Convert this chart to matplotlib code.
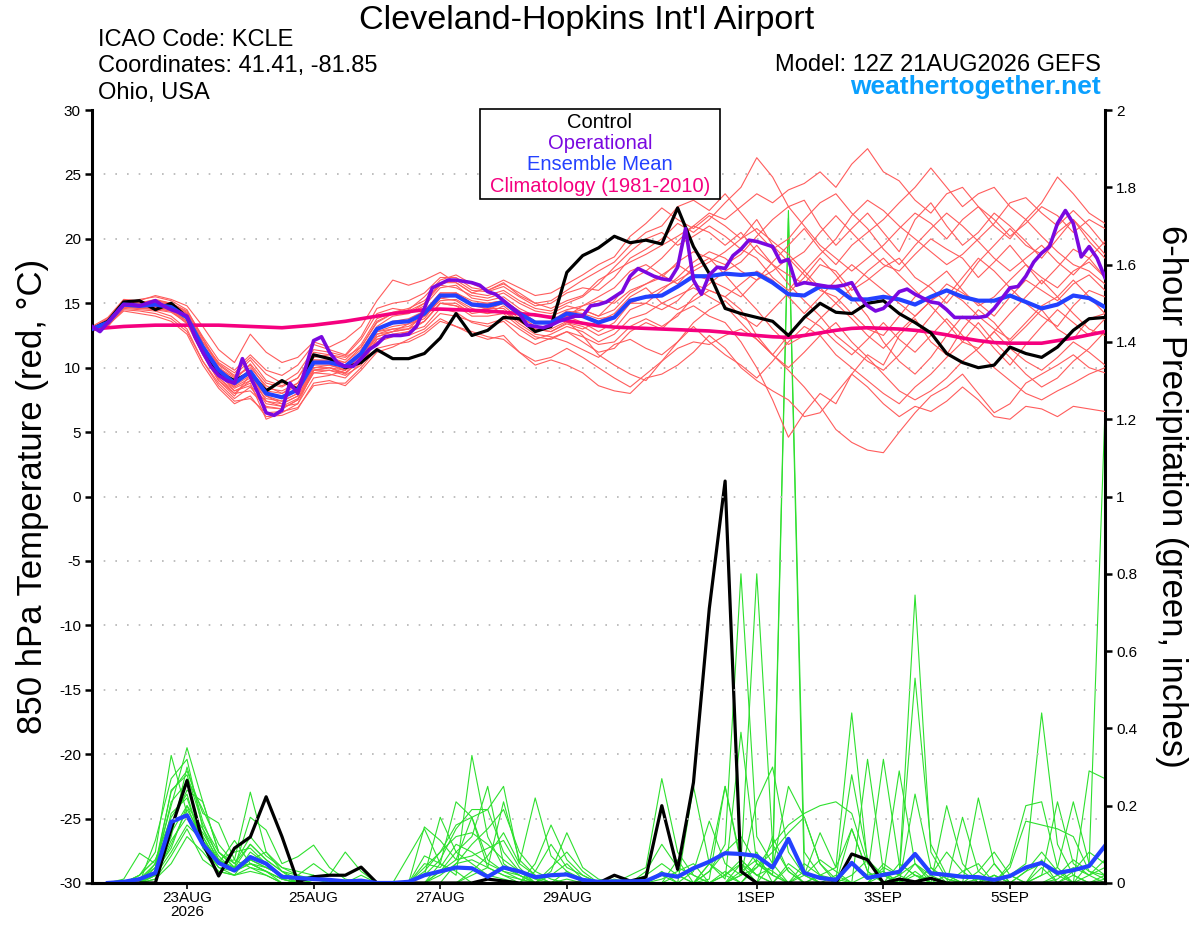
import matplotlib
matplotlib.use("Agg")
import matplotlib.pyplot as plt
import numpy as np
from matplotlib.patches import Rectangle

plt.rcParams["font.family"] = ["Liberation Sans", "DejaVu Sans"]
plt.rcParams["axes.unicode_minus"] = False

# forecast hours after 12Z 21AUG2026
hours = np.arange(0, 385, 6)
op_hours = np.arange(0, 385, 3)
precip_hours = hours[1:]

date_ticks = [36, 84, 132, 180, 252, 300, 348]
date_labels = ["23AUG\n2026", "25AUG", "27AUG", "29AUG", "1SEP", "3SEP", "5SEP"]
temp_ticks = list(range(-30, 31, 5))
precip_ticks = [0, 0.2, 0.4, 0.6, 0.8, 1.0, 1.2, 1.4, 1.6, 1.8, 2.0]

# 850 hPa temperature, deg C
control_t = [
    13.0, 13.6, 15.1, 15.2, 14.5, 15.0, 13.9, 11.4, 9.6, 9.0,
    9.6, 8.2, 9.0, 8.3, 11.0, 10.7, 10.0, 10.4, 11.4, 10.7,
    10.7, 11.1, 12.3, 14.2, 12.5, 12.9, 13.9, 13.8, 12.8, 13.2,
    17.4, 18.7, 19.3, 20.2, 19.7, 19.9, 19.6, 22.4, 19.4, 17.3,
    14.6, 14.2, 13.9, 13.6, 12.5, 13.9, 15.0, 14.3, 14.2, 15.0,
    15.2, 14.2, 13.5, 12.7, 11.1, 10.4, 10.0, 10.2, 11.6, 11.1,
    10.8, 11.6, 12.9, 13.8, 13.9,
]

operational_t = [
    13.2, 12.8, 13.5, 14.2, 14.9, 14.9, 14.8, 15.0, 15.2, 14.8,
    14.5, 14.3, 14.0, 12.4, 11.2, 10.1, 9.4, 9.0, 8.8, 10.7,
    9.3, 8.0, 6.5, 6.3, 6.7, 8.8, 8.0, 10.0, 12.1, 12.4,
    11.2, 10.4, 10.1, 10.1, 10.7, 11.4, 11.8, 12.4, 12.5, 12.5,
    12.6, 13.2, 14.6, 16.2, 16.5, 16.8, 16.8, 16.7, 16.6, 16.4,
    15.9, 15.7, 15.2, 14.7, 14.2, 13.3, 13.2, 13.1, 13.3, 13.6,
    13.8, 14.0, 14.0, 14.8, 14.9, 15.1, 15.5, 15.9, 17.1, 17.7,
    17.4, 17.1, 16.9, 16.8, 17.8, 20.8, 16.8, 15.7, 17.2, 17.8,
    17.7, 18.7, 19.2, 19.9, 19.8, 19.6, 19.4, 18.2, 18.4, 16.4,
    16.6, 16.5, 16.4, 16.3, 16.3, 16.4, 16.6, 15.5, 14.8, 14.4,
    14.6, 15.2, 15.9, 16.1, 15.7, 15.4, 15.1, 15.0, 14.5, 13.9,
    13.9, 13.9, 13.9, 14.0, 14.6, 15.4, 16.2, 16.3, 17.1, 18.2,
    18.9, 19.4, 21.2, 22.2, 21.2, 18.6, 19.4, 18.5, 17.0,
]

mean_t = [
    13.0, 13.5, 14.9, 14.8, 14.9, 14.7, 13.9, 11.6, 9.8, 8.8,
    9.7, 8.0, 7.7, 8.3, 10.4, 10.4, 10.1, 11.1, 13.0, 13.5,
    13.6, 14.2, 15.6, 15.6, 14.9, 14.8, 15.1, 14.2, 13.5, 13.5,
    14.2, 14.0, 13.5, 13.9, 15.2, 15.5, 15.6, 16.3, 17.1, 17.1,
    17.3, 17.2, 17.3, 16.6, 15.7, 15.6, 16.3, 16.2, 15.3, 15.3,
    15.5, 15.3, 14.9, 15.5, 16.0, 15.5, 15.2, 15.2, 15.6, 15.1,
    14.6, 14.9, 15.6, 15.4, 14.7,
]

climo_t = [
    13.0, 13.1, 13.2, 13.25, 13.3, 13.3, 13.3, 13.3, 13.3, 13.25,
    13.2, 13.15, 13.1, 13.2, 13.3, 13.45, 13.6, 13.8, 14.0, 14.2,
    14.35, 14.5, 14.55, 14.5, 14.45, 14.4, 14.3, 14.2, 14.1, 13.9,
    13.65, 13.45, 13.25, 13.15, 13.1, 13.05, 13.0, 12.95, 12.9, 12.85,
    12.75, 12.6, 12.5, 12.4, 12.35, 12.5, 12.7, 12.9, 13.05, 13.1,
    13.05, 13.0, 12.9, 12.75, 12.55, 12.3, 12.1, 11.95, 11.9, 11.9,
    11.9, 12.1, 12.3, 12.55, 12.8,
]

member_t = [
    [13.1, 13.8, 15.2, 15.0, 15.3, 15.0, 14.2, 12.0, 10.2, 9.3,
     10.0, 8.6, 8.0, 8.8, 10.8, 11.0, 10.6, 11.8, 13.8, 14.3,
     14.6, 15.2, 16.5, 16.8, 16.0, 15.9, 16.3, 15.5, 14.8, 15.0,
     15.8, 16.2, 16.0, 17.0, 18.5, 19.2, 20.0, 21.2, 20.5, 21.5,
     22.8, 24.0, 26.3, 24.8, 22.5, 23.0, 21.0, 19.5, 20.8, 22.0,
     20.5, 19.0, 21.5, 22.8, 21.0, 19.5, 20.5, 22.0, 21.0, 19.8,
     18.5, 20.0, 21.5, 20.2, 18.8],
    [12.9, 13.2, 14.6, 14.5, 14.4, 14.0, 13.0, 10.5, 8.8, 7.6,
     8.5, 6.9, 6.8, 7.5, 9.6, 9.5, 9.2, 10.4, 12.0, 12.4,
     12.8, 13.2, 14.6, 14.3, 13.5, 13.2, 13.6, 12.5, 11.8, 12.3,
     12.8, 12.0, 11.2, 11.5, 12.8, 13.5, 13.0, 14.2, 14.8, 14.0,
     13.5, 12.0, 10.0, 7.5, 4.6, 6.5, 8.0, 7.2, 9.5, 11.0,
     10.2, 12.5, 13.8, 12.0, 11.0, 13.0, 14.5, 13.5, 12.0, 13.2,
     14.5, 13.0, 12.2, 13.8, 14.2],
    [13.0, 13.6, 15.0, 15.3, 15.5, 15.2, 14.5, 12.3, 10.0, 9.0,
     10.3, 8.8, 8.5, 9.2, 11.2, 11.0, 10.8, 11.6, 13.5, 14.2,
     14.5, 15.5, 16.8, 17.2, 16.5, 16.0, 16.5, 15.8, 15.0, 14.6,
     15.2, 15.6, 16.8, 17.5, 18.2, 18.8, 19.5, 20.2, 21.0, 22.0,
     21.5, 22.5, 23.5, 22.8, 23.8, 24.3, 25.2, 24.0, 25.8, 27.0,
     25.2, 24.5, 23.0, 22.0, 23.5, 24.0, 22.5, 21.0, 20.0, 21.5,
     22.8, 24.8, 23.5, 22.0, 21.2],
    [12.8, 13.3, 14.4, 14.2, 14.0, 13.6, 12.6, 10.2, 8.4, 7.2,
     7.8, 6.2, 6.3, 6.8, 8.8, 9.0, 8.6, 9.8, 11.2, 11.6,
     12.2, 12.8, 13.8, 13.2, 12.6, 12.2, 12.5, 11.2, 10.5, 10.8,
     11.5, 10.8, 10.0, 9.2, 8.5, 9.5, 10.5, 11.5, 12.0, 11.8,
     12.5, 13.0, 12.2, 11.0, 9.8, 8.5, 7.0, 5.2, 4.2, 3.6,
     3.4, 5.0, 6.5, 7.8, 8.5, 9.5, 8.0, 6.5, 7.2, 8.8,
     9.5, 10.2, 11.0, 10.0, 9.6],
    [13.0, 13.4, 14.8, 14.6, 14.7, 14.5, 13.8, 11.5, 9.5, 8.5,
     9.2, 7.8, 7.2, 7.8, 10.0, 10.2, 9.8, 11.0, 12.8, 13.0,
     13.2, 14.0, 15.2, 15.3, 14.6, 14.2, 14.8, 13.8, 13.0, 12.8,
     13.5, 13.2, 12.5, 13.0, 14.5, 15.0, 16.0, 17.0, 18.2, 19.0,
     18.5, 17.5, 16.8, 17.5, 18.5, 17.2, 16.0, 15.5, 14.2, 13.0,
     12.5, 14.0, 15.5, 16.5, 17.5, 16.0, 14.8, 15.5, 16.8, 18.0,
     17.0, 16.2, 17.5, 18.2, 17.0],
    [13.2, 13.9, 15.3, 15.2, 15.6, 15.3, 14.8, 13.2, 11.4, 10.4,
     12.6, 11.2, 10.4, 10.8, 12.0, 11.6, 12.2, 13.2, 15.2, 16.8,
     16.4, 16.8, 17.4, 16.6, 15.8, 16.2, 16.8, 16.2, 15.6, 15.8,
     16.5, 17.2, 18.0, 18.6, 20.2, 21.2, 22.4, 21.5, 20.8, 21.8,
     21.0, 20.0, 21.5, 19.5, 18.2, 19.0, 20.5, 21.8, 20.5, 19.2,
     18.0, 17.5, 18.8, 20.0, 19.2, 18.5, 17.0, 18.2, 19.5, 18.0,
     16.5, 17.8, 19.2, 18.5, 17.0],
    [12.9, 13.5, 15.1, 14.9, 15.0, 14.8, 14.0, 11.8, 9.6, 8.2,
     8.8, 6.0, 6.5, 7.2, 9.8, 10.0, 9.5, 10.8, 12.6, 12.8,
     13.0, 14.2, 15.5, 15.8, 15.0, 14.5, 15.0, 14.0, 13.2, 13.0,
     13.6, 12.5, 11.0, 10.2, 9.5, 9.0, 10.5, 12.0, 13.5, 14.5,
     15.2, 14.0, 13.2, 14.5, 15.8, 17.0, 18.5, 17.2, 15.5, 14.0,
     12.0, 10.5, 9.5, 10.8, 12.5, 14.0, 13.0, 11.5, 10.2, 11.8,
     13.2, 14.5, 13.5, 12.5, 13.8],
    [13.1, 13.7, 14.9, 14.9, 15.1, 14.9, 14.2, 12.0, 10.4, 9.6,
     10.8, 9.5, 8.8, 9.6, 11.4, 11.2, 10.9, 12.2, 14.2, 14.6,
     14.4, 15.0, 16.4, 16.2, 15.6, 15.4, 15.8, 15.0, 14.4, 14.2,
     14.8, 14.5, 14.0, 15.2, 16.8, 17.5, 18.5, 19.8, 21.0, 20.5,
     19.5, 20.5, 19.0, 18.0, 17.2, 16.5, 18.0, 17.5, 16.0, 16.8,
     17.8, 18.5, 17.0, 16.2, 15.0, 16.5, 18.2, 19.5, 20.8, 19.5,
     18.8, 20.5, 21.5, 19.8, 18.5],
    [13.0, 13.6, 15.0, 14.7, 14.8, 14.6, 13.6, 11.2, 9.2, 8.0,
     9.0, 7.2, 7.0, 7.6, 9.8, 9.8, 9.4, 10.2, 12.2, 12.6,
     12.8, 13.6, 15.0, 14.8, 14.0, 14.0, 14.2, 13.2, 12.4, 12.2,
     12.8, 12.4, 11.8, 12.0, 13.2, 13.8, 13.2, 14.0, 15.5, 16.5,
     17.5, 18.2, 19.5, 18.0, 16.5, 15.2, 14.0, 12.5, 11.5, 10.5,
     9.8, 11.0, 12.5, 14.0, 15.5, 17.0, 18.5, 17.5, 16.2, 15.0,
     14.0, 13.2, 14.8, 16.0, 15.5],
    [13.0, 13.3, 14.6, 14.9, 14.6, 14.4, 13.4, 11.0, 9.0, 7.8,
     9.5, 7.4, 7.0, 7.2, 9.2, 9.4, 9.8, 10.8, 12.4, 12.8,
     13.4, 13.8, 15.4, 15.2, 14.4, 14.6, 14.6, 13.6, 12.8, 13.2,
     14.0, 14.8, 15.5, 16.2, 17.5, 18.0, 17.2, 16.5, 17.8, 18.5,
     17.2, 15.8, 14.5, 13.0, 11.8, 12.5, 13.8, 15.0, 16.2, 17.5,
     18.5, 17.2, 16.0, 14.8, 13.5, 12.0, 11.5, 12.8, 14.2, 15.5,
     16.8, 15.5, 14.2, 13.0, 12.5],
    [12.9, 13.4, 14.7, 14.6, 14.5, 14.3, 13.5, 11.0, 9.0, 8.0,
     8.2, 7.0, 6.8, 7.5, 9.6, 9.8, 9.6, 10.5, 12.2, 12.5,
     12.5, 13.0, 14.2, 14.0, 13.6, 13.4, 13.8, 13.0, 12.2, 12.6,
     13.2, 12.8, 12.0, 12.6, 13.8, 14.2, 15.0, 15.6, 16.2, 15.5,
     14.8, 13.5, 12.2, 11.0, 10.0, 11.2, 12.5, 13.5, 12.0, 10.8,
     9.5, 8.2, 7.5, 8.2, 9.2, 10.5, 11.5, 12.8, 11.5, 10.5,
     9.8, 10.8, 12.0, 11.2, 10.2],
    [13.0, 13.7, 15.1, 14.8, 14.9, 14.8, 14.0, 11.8, 10.0, 9.2,
     10.2, 8.4, 8.2, 8.8, 10.6, 10.6, 10.4, 11.4, 13.2, 14.0,
     14.2, 14.8, 16.2, 16.4, 15.4, 15.2, 15.5, 14.6, 14.0, 14.0,
     14.5, 14.8, 15.2, 15.0, 16.0, 16.5, 17.0, 18.2, 19.0, 18.5,
     18.0, 18.8, 20.2, 21.5, 22.5, 21.0, 19.5, 18.5, 17.5, 18.5,
     19.5, 20.8, 22.0, 21.2, 20.0, 21.5, 22.5, 21.5, 20.2, 21.2,
     22.5, 21.8, 20.5, 21.5, 20.8],
    [13.0, 13.5, 14.8, 14.8, 14.8, 14.6, 13.8, 11.4, 9.6, 8.6,
     9.4, 7.8, 7.4, 8.0, 10.2, 10.2, 9.9, 10.9, 12.8, 13.2,
     13.4, 14.0, 15.4, 15.6, 14.8, 14.6, 15.0, 14.0, 13.2, 13.2,
     14.0, 13.5, 12.8, 13.5, 15.0, 15.0, 14.5, 15.2, 16.5, 16.0,
     15.5, 16.5, 17.5, 16.8, 15.5, 14.2, 15.5, 16.8, 18.0, 17.0,
     16.0, 15.0, 14.0, 15.2, 16.5, 15.8, 15.0, 14.0, 15.5, 16.8,
     16.0, 15.2, 16.5, 17.2, 16.0],
    [13.1, 13.6, 15.0, 15.1, 15.2, 15.0, 14.4, 12.4, 10.6, 9.8,
     11.0, 9.8, 9.4, 10.2, 11.8, 11.4, 11.0, 12.4, 14.6, 15.0,
     15.2, 15.8, 17.0, 17.0, 16.2, 16.0, 16.6, 15.6, 15.0, 15.2,
     16.0, 16.8, 17.5, 18.2, 19.5, 20.5, 21.0, 22.5, 23.0, 22.2,
     23.5, 22.0, 20.5, 19.2, 20.0, 21.5, 22.8, 23.5, 22.0, 20.8,
     19.2, 18.0, 19.5, 20.8, 22.0, 21.0, 19.8, 18.5, 17.5, 18.5,
     19.5, 18.2, 17.2, 18.5, 19.8],
    [12.9, 13.3, 14.5, 14.4, 14.2, 13.8, 12.8, 10.5, 8.6, 7.4,
     7.6, 6.5, 6.6, 6.9, 8.6, 8.8, 8.8, 10.0, 11.5, 11.8,
     12.0, 12.6, 13.6, 13.2, 12.8, 12.4, 12.2, 11.2, 10.2, 10.6,
     10.2, 9.6, 8.6, 8.2, 8.0, 9.2, 9.5, 10.2, 11.2, 12.5,
     11.5, 10.0, 9.0, 8.2, 7.5, 6.2, 6.5, 8.0, 9.5, 8.5,
     7.2, 6.2, 7.0, 6.6, 7.4, 8.5, 7.5, 6.2, 6.0, 7.0,
     6.8, 6.2, 7.0, 6.8, 6.6],
    [13.0, 13.5, 14.9, 14.7, 14.9, 14.7, 13.9, 11.7, 9.9, 8.9,
     9.6, 8.2, 8.0, 8.6, 10.4, 10.5, 10.2, 11.2, 13.0, 13.6,
     13.8, 14.4, 15.8, 15.8, 15.2, 15.0, 15.2, 14.4, 13.6, 13.4,
     14.2, 14.5, 14.0, 14.5, 15.8, 16.5, 17.2, 18.0, 17.2, 16.8,
     16.2, 15.5, 16.8, 18.2, 19.5, 20.8, 19.2, 18.0, 19.5, 20.5,
     21.5, 22.8, 24.0, 25.5, 24.0, 22.5, 23.5, 24.0, 22.5, 21.5,
     20.2, 19.0, 18.0, 17.5, 16.5],
    [13.0, 13.4, 14.8, 14.7, 14.7, 14.5, 13.6, 11.3, 9.4, 8.4,
     9.0, 7.6, 7.4, 8.0, 10.0, 10.0, 9.8, 10.6, 12.6, 13.0,
     13.0, 13.6, 15.0, 15.0, 14.2, 14.4, 14.4, 13.4, 12.6, 12.4,
     12.0, 11.4, 10.8, 11.8, 12.2, 11.5, 11.0, 12.0, 13.2, 12.0,
     11.0, 10.2, 9.2, 10.5, 12.0, 13.2, 12.5, 11.0, 10.0, 9.0,
     8.0, 7.2, 8.5, 9.5, 10.8, 12.0, 13.5, 12.0, 10.8, 9.5,
     8.5, 9.2, 10.5, 11.5, 12.8],
    [13.1, 13.8, 15.2, 15.0, 15.2, 15.0, 14.3, 12.2, 10.3, 9.4,
     10.6, 9.0, 8.6, 9.2, 11.0, 10.8, 10.4, 11.6, 13.6, 14.2,
     14.2, 15.0, 16.6, 16.6, 15.8, 15.6, 16.0, 15.2, 14.6, 14.4,
     15.0, 15.5, 16.5, 17.8, 19.0, 20.0, 20.5, 19.5, 20.2, 21.0,
     20.2, 19.2, 18.5, 17.0, 16.0, 17.5, 18.8, 20.0, 21.8, 23.0,
     22.2, 21.0, 20.0, 19.0, 18.0, 18.8, 20.0, 21.2, 22.8, 23.2,
     22.0, 21.0, 22.2, 21.0, 19.5],
    [13.0, 13.5, 14.8, 14.8, 15.0, 14.8, 14.0, 11.8, 10.0, 9.0,
     9.8, 8.0, 7.6, 8.4, 10.6, 10.5, 10.0, 11.2, 13.0, 13.4,
     13.6, 14.4, 15.8, 15.8, 15.0, 15.0, 15.2, 14.4, 13.6, 13.6,
     14.4, 14.2, 13.8, 14.0, 15.0, 15.5, 16.2, 16.8, 17.5, 18.2,
     19.0, 20.0, 20.8, 19.8, 18.8, 17.5, 16.2, 15.0, 13.8, 12.5,
     11.5, 12.8, 14.0, 15.2, 16.0, 15.2, 14.0, 13.0, 12.2, 13.5,
     14.8, 15.5, 16.8, 15.5, 14.2],
    [12.9, 13.2, 14.7, 14.6, 14.6, 14.4, 13.6, 11.2, 9.2, 8.2,
     8.6, 7.4, 7.2, 7.8, 9.8, 10.0, 9.6, 10.6, 12.4, 12.8,
     13.0, 13.6, 15.0, 14.8, 14.4, 14.2, 14.4, 13.6, 13.0, 12.8,
     13.4, 13.0, 13.6, 14.2, 15.5, 16.2, 15.0, 14.5, 15.2, 16.0,
     15.5, 14.5, 12.5, 11.0, 12.5, 14.0, 13.2, 12.0, 11.0, 12.2,
     13.5, 12.2, 11.2, 12.5, 13.8, 12.5, 11.2, 10.0, 9.0, 8.0,
     7.5, 8.2, 8.8, 9.5, 10.0],
]

# 6-hour precipitation, inches (periods ending 18Z 21AUG .. 12Z 6SEP)
control_p = [
    0, 0, 0, 0, 0.14, 0.265, 0.103, 0.018, 0.09,
    0.119, 0.223, 0.12, 0.003, 0.016, 0.02, 0.02, 0.041, 0, 0,
    0, 0, 0, 0, 0, 0.01, 0.005, 0, 0, 0,
    0, 0, 0, 0.02, 0.005, 0.015, 0.20, 0.035, 0.26, 0.71,
    1.04, 0.03, 0, 0, 0, 0, 0, 0, 0.075, 0.06,
    0, 0.01, 0.003, 0.012, 0, 0, 0, 0, 0, 0,
    0, 0, 0, 0, 0,
]

mean_p = [
    0.0, 0.003, 0.01, 0.026, 0.158, 0.175, 0.10, 0.052, 0.032,
    0.067, 0.05, 0.016, 0.013, 0.01, 0.008, 0.004, 0.006, 0.0, 0.0,
    0.003, 0.02, 0.03, 0.04, 0.038, 0.016, 0.04, 0.03, 0.015, 0.02,
    0.022, 0.008, 0.003, 0.004, 0.004, 0.005, 0.023, 0.016, 0.038, 0.055,
    0.077, 0.075, 0.07, 0.04, 0.114, 0.026, 0.013, 0.008, 0.052, 0.013,
    0.021, 0.029, 0.075, 0.025, 0.021, 0.016, 0.015, 0.008, 0.018, 0.04,
    0.052, 0.026, 0.033, 0.044, 0.096,
]

member_p = [
    [0, 0, 0.02, 0.08, 0.33, 0.18, 0.10, 0.05, 0.03,
     0.06, 0.04, 0.02, 0.01, 0.0, 0.0, 0.0, 0.0, 0.0, 0.0,
     0.0, 0.02, 0.17, 0.08, 0.05, 0.02, 0.01, 0.0, 0.0, 0.02,
     0.05, 0.01, 0.0, 0.0, 0.0, 0.02, 0.05, 0.02, 0.0, 0.03,
     0.10, 0.80, 0.12, 0.05, 1.74, 0.08, 0.02, 0.04, 0.14, 0.03,
     0.0, 0.02, 0.05, 0.01, 0.0, 0.0, 0.03, 0.08, 0.02, 0.0,
     0.0, 0.02, 0.06, 0.03, 0.01],
    [0, 0, 0.01, 0.05, 0.20, 0.35, 0.21, 0.08, 0.04,
     0.10, 0.06, 0.03, 0.01, 0.02, 0.0, 0.0, 0.0, 0.0, 0.0,
     0.0, 0.0, 0.05, 0.21, 0.17, 0.06, 0.03, 0.01, 0.0, 0.0,
     0.01, 0.0, 0.0, 0.0, 0.02, 0.04, 0.27, 0.08, 0.02, 0.0,
     0.02, 0.05, 0.80, 0.10, 0.03, 0.0, 0.02, 0.01, 0.0, 0.0,
     0.05, 0.02, 0.745, 0.08, 0.01, 0.0, 0.0, 0.02, 0.0, 0.03,
     0.08, 0.03, 0.0, 0.05, 1.22],
    [0, 0, 0.0, 0.11, 0.27, 0.32, 0.14, 0.05, 0.11,
     0.05, 0.03, 0.01, 0.0, 0.0, 0.0, 0.0, 0.0, 0.0, 0.0,
     0.07, 0.14, 0.05, 0.02, 0.33, 0.12, 0.04, 0.02, 0.0, 0.0,
     0.0, 0.0, 0.0, 0.01, 0.0, 0.0, 0.02, 0.0, 0.25, 0.05,
     0.01, 0.39, 0.05, 0.02, 1.72, 0.02, 0.0, 0.0, 0.05, 0.02,
     0.32, 0.05, 0.02, 0.01, 0.0, 0.17, 0.03, 0.0, 0.0, 0.0,
     0.0, 0.01, 0.04, 0.02, 0.0],
    [0, 0.01, 0.077, 0.05, 0.236, 0.29, 0.18, 0.155, 0.06,
     0.235, 0.08, 0.04, 0.02, 0.01, 0.0, 0.0, 0.0, 0.0, 0.0,
     0.0, 0.145, 0.11, 0.06, 0.17, 0.04, 0.02, 0.01, 0.0, 0.03,
     0.13, 0.04, 0.01, 0.0, 0.0, 0.0, 0.0, 0.0, 0.03, 0.16,
     0.05, 0.02, 0.21, 0.30, 0.08, 0.02, 0.13, 0.04, 0.44, 0.05,
     0.02, 0.0, 0.03, 0.0, 0.2, 0.05, 0.0, 0.0, 0.02, 0.05,
     0.44, 0.1, 0.02, 0.0, 0.0],
    [0, 0.0, 0.02, 0.06, 0.15, 0.24, 0.21, 0.08, 0.04,
     0.17, 0.137, 0.05, 0.068, 0.098, 0.04, 0.01, 0.0, 0.0, 0.0,
     0.0, 0.0, 0.03, 0.08, 0.12, 0.25, 0.05, 0.02, 0.0, 0.0,
     0.0, 0.0, 0.0, 0.0, 0.0, 0.0, 0.0, 0.02, 0.0, 0.01,
     0.25, 0.05, 0.02, 0.04, 0.25, 0.17, 0.05, 0.01, 0.28, 0.06,
     0.02, 0.29, 0.05, 0.02, 0.0, 0.0, 0.22, 0.05, 0.0, 0.0,
     0.02, 0.04, 0.21, 0.05, 0.02],
    [0, 0, 0.0, 0.03, 0.12, 0.30, 0.16, 0.06, 0.08,
     0.09, 0.05, 0.02, 0.01, 0.0, 0.0, 0.0, 0.0, 0.0, 0.0,
     0.0, 0.02, 0.06, 0.14, 0.19, 0.19, 0.08, 0.03, 0.01, 0.0,
     0.0, 0.0, 0.0, 0.0, 0.0, 0.0, 0.0, 0.0, 0.0, 0.0,
     0.02, 0.06, 0.02, 0.0, 0.05, 0.02, 0.0, 0.0, 0.02, 0.06,
     0.0, 0.02, 0.53, 0.1, 0.02, 0.0, 0.01, 0.0, 0.05, 0.2,
     0.21, 0.04, 0.0, 0.02, 0.06],
    [0, 0, 0.01, 0.04, 0.21, 0.26, 0.12, 0.05, 0.03,
     0.05, 0.04, 0.02, 0.0, 0.0, 0.0, 0.0, 0.0, 0.0, 0.0,
     0.0, 0.0, 0.02, 0.05, 0.06, 0.04, 0.21, 0.06, 0.02, 0.0,
     0.0, 0.0, 0.0, 0.0, 0.0, 0.0, 0.03, 0.0, 0.0, 0.0,
     0.0, 0.05, 0.0, 0.12, 0.03, 0.0, 0.02, 0.0, 0.0, 0.02,
     0.03, 0.0, 0.23, 0.04, 0.01, 0.0, 0.0, 0.02, 0.0, 0.03,
     0.05, 0.02, 0.0, 0.29, 0.27],
    [0, 0, 0.0, 0.02, 0.18, 0.22, 0.10, 0.05, 0.06,
     0.04, 0.03, 0.01, 0.0, 0.0, 0.0, 0.0, 0.0, 0.0, 0.0,
     0.0, 0.0, 0.0, 0.0, 0.03, 0.07, 0.13, 0.05, 0.22, 0.07,
     0.03, 0.01, 0.0, 0.0, 0.0, 0.0, 0.01, 0.03, 0.05, 0.0,
     0.0, 0.03, 0.06, 0.02, 0.0, 0.05, 0.02, 0.0, 0.14, 0.03,
     0.0, 0.0, 0.0, 0.02, 0.08, 0.03, 0.0, 0.02, 0.0, 0.0,
     0.0, 0.0, 0.02, 0.0, 0.01],
    [0, 0, 0.0, 0.03, 0.09, 0.20, 0.14, 0.07, 0.03,
     0.06, 0.08, 0.03, 0.02, 0.05, 0.02, 0.08, 0.03, 0.0, 0.0,
     0.0, 0.05, 0.04, 0.1, 0.08, 0.05, 0.03, 0.02, 0.0, 0.04,
     0.08, 0.03, 0.0, 0.0, 0.0, 0.03, 0.1, 0.04, 0.02, 0.0,
     0.03, 0.0, 0.04, 0.1, 0.15, 0.18, 0.20, 0.21, 0.18, 0.05,
     0.02, 0.0, 0.02, 0.0, 0.0, 0.03, 0.05, 0.0, 0.04, 0.16,
     0.15, 0.14, 0.12, 0.03, 0.02],
    [0, 0, 0.0, 0.05, 0.14, 0.27, 0.19, 0.10, 0.05,
     0.12, 0.07, 0.04, 0.03, 0.02, 0.0, 0.0, 0.0, 0.0, 0.0,
     0.0, 0.0, 0.0, 0.05, 0.1, 0.14, 0.19, 0.08, 0.03, 0.01,
     0.0, 0.0, 0.0, 0.0, 0.0, 0.0, 0.0, 0.0, 0.0, 0.05,
     0.02, 0.0, 0.05, 0.03, 0.0, 0.02, 0.06, 0.03, 0.0, 0.0,
     0.04, 0.02, 0.0, 0.0, 0.02, 0.0, 0.0, 0.0, 0.02, 0.0,
     0.02, 0.21, 0.05, 0.02, 0.04],
    [0, 0, 0.0, 0.02, 0.10, 0.19, 0.12, 0.05, 0.04,
     0.07, 0.05, 0.02, 0.0, 0.0, 0.0, 0.0, 0.0, 0.0, 0.0,
     0.0, 0.0, 0.0, 0.0, 0.0, 0.0, 0.0, 0.0, 0.05, 0.15,
     0.06, 0.02, 0.0, 0.0, 0.0, 0.0, 0.0, 0.0, 0.0, 0.03,
     0.08, 0.12, 0.05, 0.02, 0.0, 0.03, 0.0, 0.02, 0.0, 0.0,
     0.0, 0.05, 0.02, 0.0, 0.0, 0.0, 0.0, 0.05, 0.0, 0.0,
     0.06, 0.0, 0.03, 0.08, 0.05],
    [0, 0, 0.0, 0.04, 0.24, 0.28, 0.15, 0.08, 0.05,
     0.10, 0.06, 0.03, 0.0, 0.0, 0.0, 0.0, 0.02, 0.0, 0.0,
     0.0, 0.03, 0.08, 0.15, 0.17, 0.19, 0.25, 0.05, 0.02, 0.0,
     0.0, 0.0, 0.0, 0.0, 0.0, 0.0, 0.0, 0.0, 0.0, 0.0,
     0.0, 0.0, 0.0, 0.05, 0.0, 0.0, 0.0, 0.0, 0.0, 0.0,
     0.0, 0.0, 0.05, 0.0, 0.0, 0.0, 0.0, 0.0, 0.0, 0.0,
     0.0, 0.0, 0.0, 0.0, 0.0],
    [0, 0, 0.02, 0.06, 0.17, 0.23, 0.09, 0.04, 0.02,
     0.08, 0.05, 0.02, 0.0, 0.0, 0.0, 0.0, 0.0, 0.0, 0.0,
     0.0, 0.04, 0.08, 0.12, 0.13, 0.10, 0.06, 0.03, 0.0, 0.0,
     0.03, 0.0, 0.0, 0.0, 0.0, 0.0, 0.0, 0.06, 0.0, 0.0,
     0.0, 0.02, 0.08, 0.0, 0.04, 0.0, 0.0, 0.0, 0.0, 0.32,
     0.03, 0.0, 0.0, 0.0, 0.0, 0.0, 0.0, 0.0, 0.0, 0.0,
     0.04, 0.0, 0.0, 0.0, 0.02],
    [0, 0, 0.0, 0.02, 0.08, 0.15, 0.11, 0.06, 0.04,
     0.05, 0.03, 0.0, 0.0, 0.0, 0.0, 0.0, 0.0, 0.0, 0.0,
     0.0, 0.0, 0.03, 0.06, 0.07, 0.09, 0.11, 0.04, 0.0, 0.0,
     0.0, 0.0, 0.0, 0.0, 0.0, 0.0, 0.0, 0.0, 0.0, 0.0,
     0.0, 0.0, 0.0, 0.0, 0.0, 0.0, 0.0, 0.0, 0.0, 0.0,
     0.0, 0.0, 0.0, 0.0, 0.0, 0.0, 0.0, 0.0, 0.0, 0.0,
     0.0, 0.0, 0.0, 0.0, 0.0],
    [0, 0, 0.0, 0.01, 0.05, 0.12, 0.08, 0.03, 0.02,
     0.04, 0.02, 0.0, 0.0, 0.0, 0.0, 0.0, 0.0, 0.0, 0.0,
     0.0, 0.0, 0.0, 0.0, 0.02, 0.04, 0.02, 0.0, 0.0, 0.0,
     0.0, 0.0, 0.0, 0.0, 0.0, 0.0, 0.0, 0.0, 0.0, 0.0,
     0.0, 0.02, 0.04, 0.08, 0.13, 0.17, 0.05, 0.0, 0.0, 0.0,
     0.02, 0.0, 0.0, 0.04, 0.0, 0.0, 0.0, 0.0, 0.0, 0.0,
     0.0, 0.0, 0.0, 0.0, 0.0],
    [0, 0, 0.0, 0.03, 0.13, 0.20, 0.10, 0.04, 0.03,
     0.06, 0.04, 0.02, 0.0, 0.0, 0.0, 0.0, 0.0, 0.0, 0.0,
     0.0, 0.0, 0.0, 0.0, 0.0, 0.0, 0.0, 0.0, 0.03, 0.10,
     0.04, 0.02, 0.0, 0.0, 0.0, 0.0, 0.0, 0.0, 0.0, 0.05,
     0.25, 0.06, 0.02, 0.0, 0.0, 0.0, 0.0, 0.0, 0.0, 0.0,
     0.0, 0.0, 0.0, 0.0, 0.0, 0.0, 0.0, 0.0, 0.0, 0.0,
     0.0, 0.0, 0.0, 0.0, 0.0],
    [0, 0, 0.0, 0.02, 0.11, 0.17, 0.13, 0.06, 0.03,
     0.05, 0.03, 0.01, 0.0, 0.0, 0.0, 0.0, 0.0, 0.0, 0.0,
     0.0, 0.07, 0.05, 0.03, 0.0, 0.0, 0.0, 0.0, 0.0, 0.0,
     0.0, 0.0, 0.0, 0.0, 0.0, 0.0, 0.0, 0.0, 0.0, 0.0,
     0.0, 0.0, 0.0, 0.0, 0.0, 0.0, 0.0, 0.0, 0.0, 0.0,
     0.0, 0.0, 0.0, 0.0, 0.0, 0.0, 0.0, 0.0, 0.0, 0.0,
     0.0, 0.0, 0.0, 0.0, 0.0],
    [0, 0, 0.0, 0.01, 0.07, 0.14, 0.06, 0.03, 0.02,
     0.03, 0.02, 0.0, 0.0, 0.0, 0.0, 0.0, 0.0, 0.0, 0.0,
     0.0, 0.0, 0.0, 0.0, 0.0, 0.0, 0.0, 0.0, 0.0, 0.0,
     0.0, 0.0, 0.0, 0.0, 0.0, 0.0, 0.0, 0.0, 0.0, 0.0,
     0.0, 0.0, 0.0, 0.0, 0.0, 0.0, 0.0, 0.0, 0.0, 0.0,
     0.0, 0.0, 0.0, 0.0, 0.0, 0.0, 0.0, 0.0, 0.0, 0.0,
     0.0, 0.0, 0.0, 0.0, 0.0],
]

for name, series, n in [("control_t", control_t, 65), ("mean_t", mean_t, 65),
                        ("climo_t", climo_t, 65), ("operational_t", operational_t, 129),
                        ("control_p", control_p, 64), ("mean_p", mean_p, 64)]:
    if len(series) != n:
        raise ValueError(f"{name} has {len(series)} values, expected {n}")
for k, m in enumerate(member_t):
    if len(m) != 65:
        raise ValueError(f"member_t[{k}] has {len(m)} values")
for k, m in enumerate(member_p):
    if len(m) != 64:
        raise ValueError(f"member_p[{k}] has {len(m)} values")

fig = plt.figure(figsize=(12, 9.27), dpi=100)
ax = fig.add_axes([0.0767, 0.0475, 0.8441, 0.8338])
ax2 = ax.twinx()
ax.set_zorder(ax2.get_zorder() + 1)
ax.patch.set_visible(False)

# precipitation (right axis)
for m in member_p:
    ax2.plot(precip_hours, m, color="#2ee02e", lw=0.8)
ax2.plot(precip_hours, control_p, color="black", lw=2.3)
ax2.plot(precip_hours, mean_p, color="#2341ff", lw=3.0)

# temperature (left axis)
for lv in temp_ticks[1:-1]:
    ax.axhline(lv, color="#b4b4b4", lw=1.2, ls=(0, (1, 6)), zorder=0.5)
for m in member_t:
    ax.plot(hours, m, color="#ff5c5c", lw=0.8, zorder=1)
ax.plot(hours, climo_t, color="#f5007f", lw=2.6, zorder=2)
ax.plot(hours, control_t, color="black", lw=2.3, zorder=3)
ax.plot(hours, mean_t, color="#2341ff", lw=3.0, zorder=4)
ax.plot(op_hours, operational_t, color="#7a08e0", lw=2.6, zorder=5)

ax.set_xlim(0, 384)
ax.set_ylim(-30, 30)
ax2.set_ylim(0, 2)

ax.set_yticks(temp_ticks)
ax.set_yticklabels([str(v) for v in temp_ticks])
ax2.set_yticks(precip_ticks)
ax2.set_yticklabels([f"{v:g}" for v in precip_ticks])
ax.set_xticks(date_ticks)
ax.set_xticklabels(date_labels)
ax.get_xticklabels()[0].set_linespacing(1.0)

for a in (ax, ax2):
    a.spines["top"].set_visible(False)
    for s in ("left", "right", "bottom"):
        a.spines[s].set_linewidth(2.2)
ax.spines["right"].set_visible(False)
ax2.spines["left"].set_visible(False)

ax.tick_params(axis="y", direction="out", length=5, width=1.8, labelsize=11, pad=3)
ax.tick_params(axis="x", direction="out", length=4, width=1.2, labelsize=11, pad=2)
ax2.tick_params(axis="y", direction="out", length=5, width=1.8, labelsize=11, pad=3)

ax.set_ylabel("850 hPa Temperature (red, °C)", fontsize=25)
ax.yaxis.label.set_ha("center")
ax.yaxis.label.set_va("center")
ax.yaxis.set_label_coords(-0.059, 0.5)
ax2.set_ylabel("6-hour Precipitation (green, inches)", fontsize=25, rotation=-90)
ax2.yaxis.label.set_ha("center")
ax2.yaxis.label.set_va("center")
ax2.yaxis.set_label_coords(1.066, 0.5)

# header text
fig.text(0.489, 0.9682, "Cleveland-Hopkins Int'l Airport", ha="center", va="baseline", fontsize=24.6)
fig.text(0.0817, 0.9504, "ICAO Code: KCLE", va="baseline", fontsize=17)
fig.text(0.0817, 0.9218, "Coordinates: 41.41, -81.85", va="baseline", fontsize=17)
fig.text(0.0817, 0.8927, "Ohio, USA", va="baseline", fontsize=17)
fig.text(0.9175, 0.9229, "Model: 12Z 21AUG2026 GEFS", ha="right", va="baseline", fontsize=17)
fig.text(0.9175, 0.8991, "weathertogether.net", ha="right", va="baseline", fontsize=19,
         fontweight="bold", color="#0aa0ff")

# legend box
fig.patches.append(Rectangle((0.4, 0.7853), 0.2, 0.0971, transform=fig.transFigure,
                             facecolor="white", edgecolor="black", lw=1.2, zorder=5))
legend_rows = [
    ("Control", "black", 0.8622),
    ("Operational", "#7a08e0", 0.8398),
    ("Ensemble Mean", "#2341ff", 0.8166),
    ("Climatology (1981-2010)", "#f5007f", 0.7934),
]
for label, color, ypos in legend_rows:
    fig.text(0.5, ypos, label, ha="center", va="baseline", fontsize=14.5, color=color, zorder=6)

fig.savefig("out.png", dpi=100)
